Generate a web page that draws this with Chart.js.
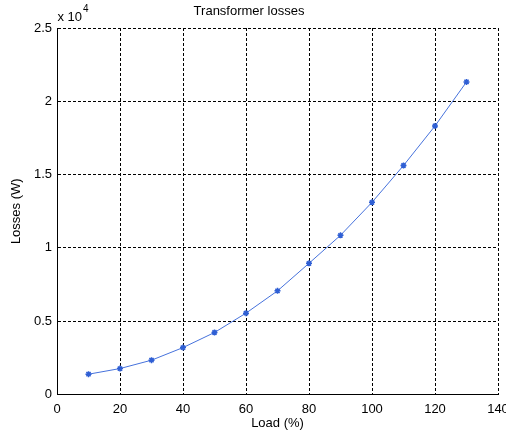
<!DOCTYPE html>
<html>
<head>
<meta charset="utf-8">
<script src="https://cdn.jsdelivr.net/npm/chart.js@4"></script>
<style>
html,body{margin:0;padding:0;background:#fff;}
canvas{display:block;}
</style>
</head>
<body>
<canvas id="c" width="506" height="437"></canvas>
<script>
const loadPct = [10, 20, 30, 40, 50, 60, 70, 80, 90, 100, 110, 120, 130];
const lossesW = [1385, 1770, 2340, 3200, 4230, 5550, 7070, 8950, 10860, 13110, 15620, 18320, 21320];
const xTicks = [0, 20, 40, 60, 80, 100, 120, 140];
const yTicksW = [0, 5000, 10000, 15000, 20000, 25000];
const titleText = 'Transformer losses';
const xLabel = 'Load (%)';
const yLabel = 'Losses (W)';
const expText = 'x 10';
const expPow = '4';

const FONT = "'Liberation Sans', Arial, sans-serif";

const exponentPlugin = {
  id: 'exponent',
  afterDraw(chart) {
    const ctx = chart.ctx;
    const a = chart.chartArea;
    ctx.save();
    ctx.fillStyle = '#000';
    ctx.textBaseline = 'alphabetic';
    ctx.textAlign = 'left';
    ctx.font = '13px ' + FONT;
    ctx.fillText(expText, a.left + 0.5, 21);
    const w = ctx.measureText(expText).width;
    ctx.font = '10px ' + FONT;
    ctx.fillText(expPow, a.left + 1.5 + w, 12);
    ctx.restore();
  }
};

new Chart(document.getElementById('c'), {
  type: 'line',
  data: {
    datasets: [{
      data: loadPct.map((x, i) => ({x: x, y: lossesW[i]})),
      borderColor: '#4672dc',
      backgroundColor: '#2f5fd4',
      borderWidth: 1,
      pointStyle: 'star',
      pointRadius: 3,
      pointBorderWidth: 1.5,
      pointBorderColor: '#2f5fd4',
      tension: 0,
      fill: false
    }]
  },
  options: {
    responsive: false,
    animation: false,
    devicePixelRatio: 1,
    layout: {padding: {left: 0, right: 8, top: 0, bottom: 0}},
    plugins: {
      legend: {display: false},
      tooltip: {enabled: false},
      title: {
        display: true,
        text: titleText,
        color: '#000',
        font: {family: FONT, size: 13, weight: 'normal'},
        padding: {top: 4, bottom: 8.4}
      }
    },
    scales: {
      x: {
        type: 'linear',
        min: 0, max: 140,
        afterBuildTicks: s => { s.ticks = xTicks.map(v => ({value: v})); },
        ticks: {color: '#000', font: {family: FONT, size: 13}, padding: 7, maxRotation: 0, autoSkip: false},
        grid: {color: '#000', lineWidth: 1, drawTicks: false},
        border: {display: true, color: '#000', width: 1, dash: [3, 2]},
        title: {display: true, text: xLabel, color: '#000', font: {family: FONT, size: 13}, padding: {top: 0, bottom: 6}},
        afterFit: s => { s.height = 42.5; s.paddingLeft = 0; s.paddingRight = 0; }
      },
      y: {
        type: 'linear',
        min: 0, max: 25000,
        afterBuildTicks: s => { s.ticks = yTicksW.map(v => ({value: v})); },
        ticks: {color: '#000', font: {family: FONT, size: 13}, padding: 5, callback: v => String(v / 10000)},
        grid: {color: '#000', lineWidth: 1, drawTicks: false},
        border: {display: true, color: '#000', width: 1, dash: [3, 2]},
        title: {display: true, text: yLabel, color: '#000', font: {family: FONT, size: 13}, padding: {top: 9, bottom: 0}},
        afterFit: s => { s.width = 57; s.paddingTop = 0; s.paddingBottom = 0; }
      }
    }
  },
  plugins: [exponentPlugin]
});
</script>
</body>
</html>
